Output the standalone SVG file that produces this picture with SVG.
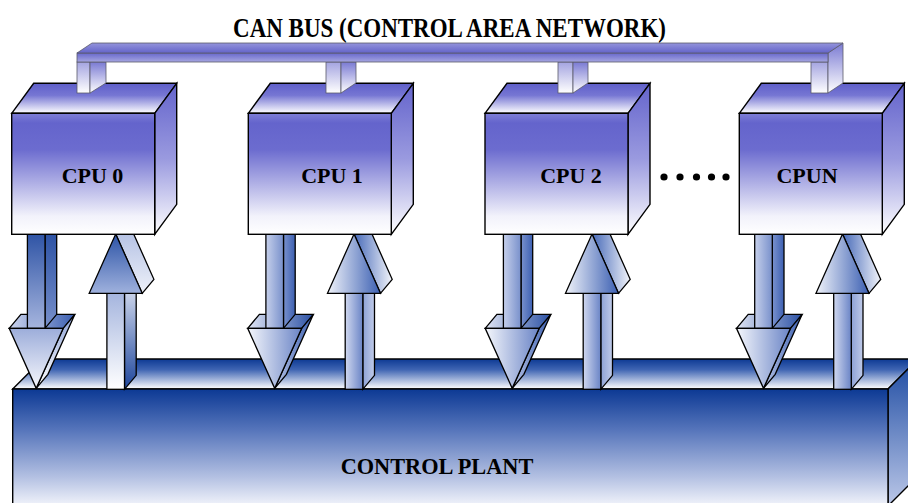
<svg xmlns="http://www.w3.org/2000/svg" xmlns:xlink="http://www.w3.org/1999/xlink" width="908" height="503" viewBox="0 0 908 503">
  <style>
    .lbl { font-family: "Liberation Serif", "Times New Roman", serif; font-weight: bold; fill: #000; text-anchor: middle; }
    .edge { stroke: #000; stroke-width: 1.4; stroke-linejoin: miter; }
    .arw { stroke: #000; stroke-width: 1.3; stroke-linejoin: miter; }
    .bus { stroke: #5a5a6a; stroke-width: 0.8; }
  </style>
  <defs>
    <!-- control plant -->
    <linearGradient id="plantTop" x1="0" y1="0" x2="0" y2="1">
      <stop offset="0" stop-color="#0d3a94"/>
      <stop offset="0.35" stop-color="#3e64b2"/>
      <stop offset="1" stop-color="#ffffff"/>
    </linearGradient>
    <linearGradient id="plantFront" x1="0" y1="0" x2="0" y2="1">
      <stop offset="0" stop-color="#0c3994"/>
      <stop offset="0.35" stop-color="#5675bb"/>
      <stop offset="0.75" stop-color="#b3c0e2"/>
      <stop offset="1" stop-color="#f2f4fb"/>
    </linearGradient>
    <linearGradient id="plantSide" x1="0" y1="0" x2="0" y2="1">
      <stop offset="0" stop-color="#1c4aa2"/>
      <stop offset="1" stop-color="#bcc8e8"/>
    </linearGradient>
    <!-- processor boxes -->
    <linearGradient id="cpuFront" x1="0" y1="0" x2="0" y2="1">
      <stop offset="0" stop-color="#7e7ed6"/>
      <stop offset="0.08" stop-color="#6464cc"/>
      <stop offset="0.3" stop-color="#6c6ccf"/>
      <stop offset="0.85" stop-color="#f2f2fb"/>
      <stop offset="1" stop-color="#ffffff"/>
    </linearGradient>
    <linearGradient id="cpuTop" x1="0" y1="0" x2="0" y2="1">
      <stop offset="0" stop-color="#5f5fc9"/>
      <stop offset="0.4" stop-color="#7676d3"/>
      <stop offset="1" stop-color="#ffffff"/>
    </linearGradient>
    <linearGradient id="cpuSide" x1="0" y1="0" x2="0" y2="1">
      <stop offset="0" stop-color="#6464cc"/>
      <stop offset="0.5" stop-color="#9a9adf"/>
      <stop offset="1" stop-color="#ffffff"/>
    </linearGradient>
    <!-- bus -->
    <linearGradient id="busTop" x1="0" y1="0" x2="0" y2="1">
      <stop offset="0" stop-color="#9494dc"/>
      <stop offset="1" stop-color="#6464c9"/>
    </linearGradient>
    <linearGradient id="busFront" x1="0" y1="0" x2="0" y2="1">
      <stop offset="0" stop-color="#6868cc"/>
      <stop offset="1" stop-color="#a6a6e1"/>
    </linearGradient>
    <linearGradient id="stubF" x1="0" y1="0" x2="0" y2="1">
      <stop offset="0" stop-color="#a4a4e0"/>
      <stop offset="1" stop-color="#ffffff"/>
    </linearGradient>
    <linearGradient id="stubS" x1="0" y1="0" x2="0" y2="1">
      <stop offset="0" stop-color="#7a7ad3"/>
      <stop offset="1" stop-color="#ffffff"/>
    </linearGradient>
    <!-- arrows, first processor (vertical shading) -->
    <linearGradient id="d0SF" x1="0" y1="0" x2="0" y2="1">
      <stop offset="0" stop-color="#2a50a3"/>
      <stop offset="1" stop-color="#a6b5de"/>
    </linearGradient>
    <linearGradient id="d0SS" x1="0" y1="0" x2="0" y2="1">
      <stop offset="0" stop-color="#2a50a3"/>
      <stop offset="1" stop-color="#7890cb"/>
    </linearGradient>
    <linearGradient id="d0HT" x1="0" y1="0" x2="1" y2="0">
      <stop offset="0" stop-color="#cdd5ee"/>
      <stop offset="1" stop-color="#3a5eb0"/>
    </linearGradient>
    <linearGradient id="d0HF" x1="0" y1="0" x2="0" y2="1">
      <stop offset="0" stop-color="#9cadda"/>
      <stop offset="1" stop-color="#f6f7fc"/>
    </linearGradient>
    <linearGradient id="d0HS" x1="0" y1="0" x2="0" y2="1">
      <stop offset="0" stop-color="#8da2d6"/>
      <stop offset="1" stop-color="#ffffff"/>
    </linearGradient>
    <linearGradient id="u0HF" x1="0" y1="0" x2="0" y2="1">
      <stop offset="0" stop-color="#2c53a6"/>
      <stop offset="1" stop-color="#9fb1dd"/>
    </linearGradient>
    <linearGradient id="u0HS" x1="0" y1="0" x2="0" y2="1">
      <stop offset="0" stop-color="#a9b8e0"/>
      <stop offset="1" stop-color="#eef1f9"/>
    </linearGradient>
    <linearGradient id="u0SF" x1="0" y1="0" x2="0" y2="1">
      <stop offset="0" stop-color="#a5b5de"/>
      <stop offset="1" stop-color="#ffffff"/>
    </linearGradient>
    <linearGradient id="u0SS" x1="0" y1="0" x2="0" y2="1">
      <stop offset="0" stop-color="#e2e7f5"/>
      <stop offset="1" stop-color="#1e469c"/>
    </linearGradient>
    <!-- arrows, other processors (horizontal shading) -->
    <linearGradient id="dSF" x1="0" y1="0" x2="1" y2="0">
      <stop offset="0" stop-color="#c6d0eb"/>
      <stop offset="1" stop-color="#7890cb"/>
    </linearGradient>
    <linearGradient id="dSS" x1="0" y1="0" x2="1" y2="0">
      <stop offset="0" stop-color="#7a92cd"/>
      <stop offset="1" stop-color="#3d60b2"/>
    </linearGradient>
    <linearGradient id="dHT" x1="0" y1="0" x2="1" y2="0">
      <stop offset="0" stop-color="#e2e7f5"/>
      <stop offset="1" stop-color="#2a50a4"/>
    </linearGradient>
    <linearGradient id="dHF" x1="0" y1="0" x2="1" y2="0">
      <stop offset="0" stop-color="#f5f7fc"/>
      <stop offset="1" stop-color="#6a84c6"/>
    </linearGradient>
    <linearGradient id="dHS" x1="0" y1="0" x2="1" y2="0">
      <stop offset="0" stop-color="#b6c3e6"/>
      <stop offset="1" stop-color="#3a5eb0"/>
    </linearGradient>
    <linearGradient id="uHF" x1="0" y1="0" x2="1" y2="0">
      <stop offset="0" stop-color="#f0f3fa"/>
      <stop offset="1" stop-color="#3b5fb2"/>
    </linearGradient>
    <linearGradient id="uHS" x1="0" y1="0" x2="1" y2="0">
      <stop offset="0" stop-color="#4669b8"/>
      <stop offset="1" stop-color="#f2f4fa"/>
    </linearGradient>
    <linearGradient id="uSF" x1="0" y1="0" x2="1" y2="0">
      <stop offset="0" stop-color="#d0d8ef"/>
      <stop offset="1" stop-color="#6a84c6"/>
    </linearGradient>
    <linearGradient id="uSS" x1="0" y1="0" x2="1" y2="0">
      <stop offset="0" stop-color="#8da2d6"/>
      <stop offset="1" stop-color="#c0cbe9"/>
    </linearGradient>

    <!-- 3D box of a processor, origin at the front-left corner of its top edge -->
    <g id="cpuBox" class="edge">
      <polygon points="0,0 22,-30 165,-30 143,0" fill="url(#cpuTop)"/>
      <polygon points="143,0 165,-30 165,91 143,121" fill="url(#cpuSide)"/>
      <rect x="0" y="0" width="143" height="121" fill="url(#cpuFront)"/>
    </g>

    <!-- downward arrow centred on x = 0 -->
    <g id="down0" class="arw">
      <polygon points="-27,328.3 -15.3,314.3 38.7,314.3 27,328.3" fill="url(#d0HT)"/>
      <polygon points="27,328.3 38.7,314.3 11.7,374.3 0,388.3" fill="url(#d0HS)"/>
      <polygon points="8.8,230 20.5,230 20.5,314.3 8.8,328.3" fill="url(#d0SS)"/>
      <rect x="-8.8" y="230" width="17.6" height="98.3" fill="url(#d0SF)"/>
      <polygon points="-27,328.3 27,328.3 0,388.3" fill="url(#d0HF)"/>
    </g>
    <g id="down" class="arw">
      <polygon points="-27,328.3 -15.3,314.3 38.7,314.3 27,328.3" fill="url(#dHT)"/>
      <polygon points="27,328.3 38.7,314.3 11.7,374.3 0,388.3" fill="url(#dHS)"/>
      <polygon points="8.8,230 20.5,230 20.5,314.3 8.8,328.3" fill="url(#dSS)"/>
      <rect x="-8.8" y="230" width="17.6" height="98.3" fill="url(#dSF)"/>
      <polygon points="-27,328.3 27,328.3 0,388.3" fill="url(#dHF)"/>
    </g>

    <!-- upward arrow centred on x = 0 -->
    <g id="up0" class="arw">
      <polygon points="8.8,293.3 20.5,279.3 20.5,375.3 8.8,389.3" fill="url(#u0SS)"/>
      <rect x="-8.8" y="293.3" width="17.6" height="96" fill="url(#u0SF)"/>
      <polygon points="0,234 11.7,220 38.2,279.3 26.5,293.3" fill="url(#u0HS)"/>
      <polygon points="0,234 26.5,293.3 -26.5,293.3" fill="url(#u0HF)"/>
    </g>
    <g id="up" class="arw">
      <polygon points="8.8,293.3 20.5,279.3 20.5,375.3 8.8,389.3" fill="url(#uSS)"/>
      <rect x="-8.8" y="293.3" width="17.6" height="96" fill="url(#uSF)"/>
      <polygon points="0,234 11.7,220 38.2,279.3 26.5,293.3" fill="url(#uHS)"/>
      <polygon points="0,234 26.5,293.3 -26.5,293.3" fill="url(#uHF)"/>
    </g>
  </defs>

  <rect width="908" height="503" fill="#ffffff"/>

  <!-- control plant -->
  <g id="control-plant" class="edge">
    <polygon points="12.7,389 42.7,359 918,359 888,389" fill="url(#plantTop)"/>
    <polygon points="888,389 918,359 918,476 888,506" fill="url(#plantSide)"/>
    <rect x="12.7" y="389" width="875.3" height="117" fill="url(#plantFront)"/>
    <text class="lbl" x="437" y="473.5" font-size="22.3" stroke="none">CONTROL PLANT</text>
  </g>

  <!-- links between the processors and the plant -->
  <g id="connectors">
    <use xlink:href="#down0" x="36.2"/>
    <use xlink:href="#up0" x="115.7"/>
    <use xlink:href="#down" x="274.7"/>
    <use xlink:href="#up" x="354"/>
    <use xlink:href="#down" x="512.2"/>
    <use xlink:href="#up" x="592"/>
    <use xlink:href="#down" x="763.5"/>
    <use xlink:href="#up" x="842.5"/>
  </g>

  <!-- processors -->
  <g id="cpu0">
    <use xlink:href="#cpuBox" x="11.7" y="113.3"/>
    <text class="lbl" x="92.5" y="183" font-size="22">CPU 0</text>
  </g>
  <g id="cpu1">
    <use xlink:href="#cpuBox" x="248.3" y="113.3"/>
    <text class="lbl" x="332" y="183" font-size="22">CPU 1</text>
  </g>
  <g id="cpu2">
    <use xlink:href="#cpuBox" x="485" y="113.3"/>
    <text class="lbl" x="571" y="183" font-size="22">CPU 2</text>
  </g>
  <g id="cpuN">
    <use xlink:href="#cpuBox" x="739.3" y="113.3"/>
    <text class="lbl" x="807" y="183" font-size="22">CPUN</text>
  </g>

  <!-- ellipsis between CPU 2 and CPUN -->
  <g id="ellipsis" fill="#000">
    <circle cx="664" cy="177" r="3.6"/>
    <circle cx="680" cy="177" r="3.6"/>
    <circle cx="696.5" cy="177" r="3.6"/>
    <circle cx="711.5" cy="177" r="3.6"/>
    <circle cx="726" cy="177" r="3.6"/>
  </g>

  <!-- CAN bus with its drops to each processor -->
  <g id="can-bus" class="bus">
    <rect x="77" y="62" width="13" height="31" fill="url(#stubF)"/>
    <polygon points="90,62 106,62 106,83 90,93" fill="url(#stubS)"/>
    <rect x="326" y="62" width="15" height="31" fill="url(#stubF)"/>
    <polygon points="341,62 356,62 356,83 341,93" fill="url(#stubS)"/>
    <rect x="558" y="62" width="15" height="31" fill="url(#stubF)"/>
    <polygon points="573,62 588,62 588,83 573,93" fill="url(#stubS)"/>
    <rect x="811" y="62" width="17" height="31" fill="url(#stubF)"/>
    <polygon points="828,53 843,43 843,83 828,93" fill="url(#stubS)"/>
    <rect x="77" y="53" width="751" height="9" fill="url(#busFront)"/>
    <polygon points="77,53 92,43 843,43 828,53" fill="url(#busTop)"/>
    <text class="lbl" transform="translate(449.5,37) scale(1,1.15)" x="0" y="0" font-size="23" stroke="none">CAN BUS (CONTROL AREA NETWORK)</text>
  </g>
</svg>
